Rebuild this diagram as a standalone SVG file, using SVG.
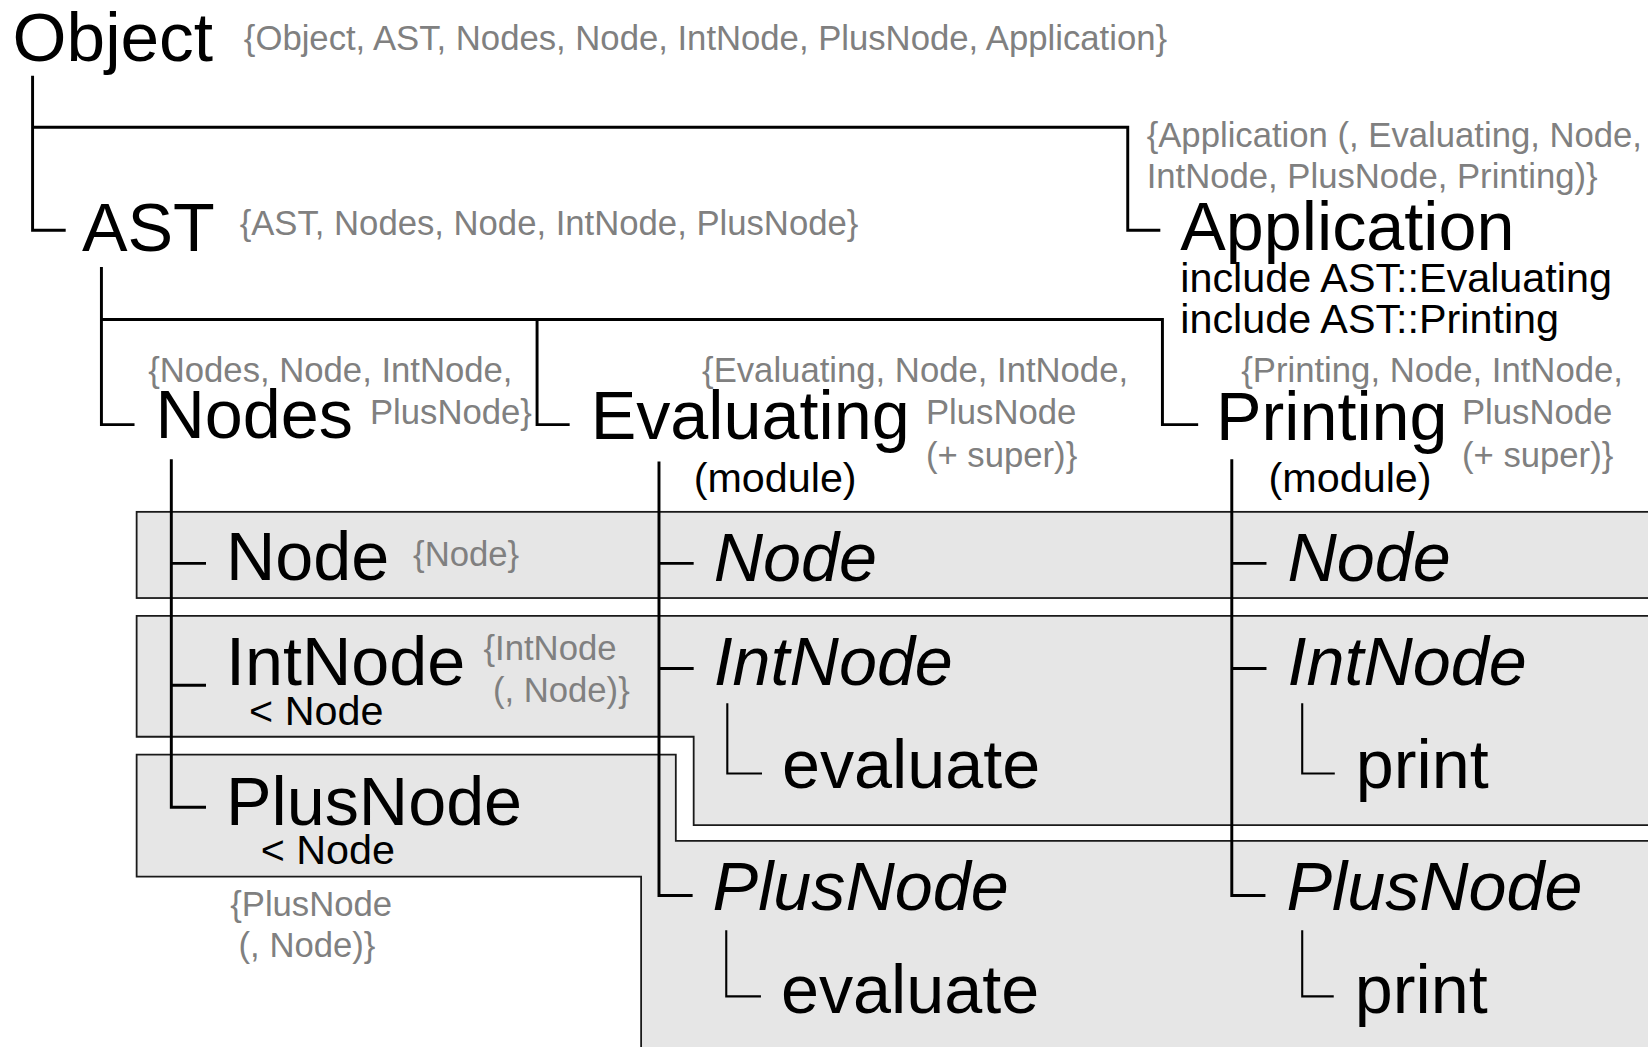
<svg xmlns="http://www.w3.org/2000/svg" width="1648" height="1047" viewBox="0 0 1648 1047">
<style>
text{font-family:"Liberation Sans",Arial,sans-serif;fill:#000}
.big{font-size:65px}
.mid{font-size:39.3px}
.set{font-size:33px;fill:#808080}
.it{font-style:italic}
.box{fill:#e6e6e6;stroke:#1a1a1a;stroke-width:1.7}
.ln{fill:none;stroke:#000;stroke-width:2.8}
.sub{fill:none;stroke:#000;stroke-width:2}
</style>
<rect width="1648" height="1047" fill="#fff"/>
<g transform="scale(1.05102)">
<g id="bands">
<rect class="box" x="130" y="487" width="1460" height="82"/>
<path class="box" d="M130,586 H1590 V785 H660 V701 H130 Z"/>
<path class="box" d="M130,718 H643 V800 H1590 V1000 H610 V834 H130 Z"/>
</g>
<g id="connectors">
<path class="ln" d="M31,72 V219 H62.5 M31,121 H1073 V219 H1104"/>
<path class="ln" d="M96.5,254 V404 H128 M96.5,304 H1106 V404 H1140 M511,304 V404 H542"/>
<path class="ln" d="M163,437 V768 H196 M163,536 H196 M163,652 H196"/>
<path class="ln" d="M627,439 V852 H659 M627,536 H660 M627,636 H660"/>
<path class="sub" d="M692,669 V736 H725 M691,885 V948 H724"/>
<path class="ln" d="M1172,437 V852 H1204 M1172,536 H1205 M1172,636 H1205"/>
<path class="sub" d="M1239,669 V736 H1270 M1239,885 V948 H1269"/>
</g>
<g id="object">
<text class="big" x="12" y="58" style="font-size:66px">Object</text>
<text class="set" x="232" y="48">{Object, AST, Nodes, Node, IntNode, PlusNode, Application}</text>
</g>
<g id="ast">
<text class="big" x="78" y="239">AST</text>
<text class="set" x="228" y="224">{AST, Nodes, Node, IntNode, PlusNode}</text>
</g>
<g id="application">
<text class="set" x="1091" y="140">{Application (, Evaluating, Node,</text>
<text class="set" x="1091" y="179">IntNode, PlusNode, Printing)}</text>
<text class="big" x="1123" y="238">Application</text>
<text class="mid" x="1123" y="278">include AST::Evaluating</text>
<text class="mid" x="1123" y="317">include AST::Printing</text>
</g>
<g id="nodes">
<text class="set" x="141" y="363">{Nodes, Node, IntNode,</text>
<text class="big" x="148" y="417">Nodes</text>
<text class="set" x="352" y="403">PlusNode}</text>
</g>
<g id="evaluating">
<text class="set" x="668" y="363">{Evaluating, Node, IntNode,</text>
<text class="big" x="562" y="418">Evaluating</text>
<text class="set" x="881" y="403">PlusNode</text>
<text class="set" x="881" y="444">(+ super)}</text>
<text class="mid" x="660" y="468">(module)</text>
</g>
<g id="printing">
<text class="set" x="1181" y="363">{Printing, Node, IntNode,</text>
<text class="big" x="1157" y="419">Printing</text>
<text class="set" x="1391" y="403">PlusNode</text>
<text class="set" x="1391" y="444">(+ super)}</text>
<text class="mid" x="1207" y="468">(module)</text>
</g>
<g id="node">
<text class="big" x="215" y="552">Node</text>
<text class="set" x="393" y="539">{Node}</text>
</g>
<g id="intnode">
<text class="big" x="215" y="652">IntNode</text>
<text class="mid" x="237" y="690">&lt; Node</text>
<text class="set" x="460" y="628">{IntNode</text>
<text class="set" x="469" y="668">(, Node)}</text>
</g>
<g id="plusnode">
<text class="big" x="215" y="785">PlusNode</text>
<text class="mid" x="248" y="822">&lt; Node</text>
<text class="set" x="219" y="872">{PlusNode</text>
<text class="set" x="227" y="911">(, Node)}</text>
</g>
<g id="eval-node"><text class="big it" x="679" y="553">Node</text></g>
<g id="eval-intnode"><text class="big it" x="679" y="652">IntNode</text></g>
<g id="eval-intnode-evaluate"><text class="big" x="744" y="750">evaluate</text></g>
<g id="eval-plusnode"><text class="big it" x="678" y="866">PlusNode</text></g>
<g id="eval-plusnode-evaluate"><text class="big" x="743" y="964">evaluate</text></g>
<g id="print-node"><text class="big it" x="1225" y="553">Node</text></g>
<g id="print-intnode"><text class="big it" x="1225" y="652">IntNode</text></g>
<g id="print-intnode-print"><text class="big" x="1290" y="750">print</text></g>
<g id="print-plusnode"><text class="big it" x="1224" y="866">PlusNode</text></g>
<g id="print-plusnode-print"><text class="big" x="1289" y="964">print</text></g>
</g>
</svg>
